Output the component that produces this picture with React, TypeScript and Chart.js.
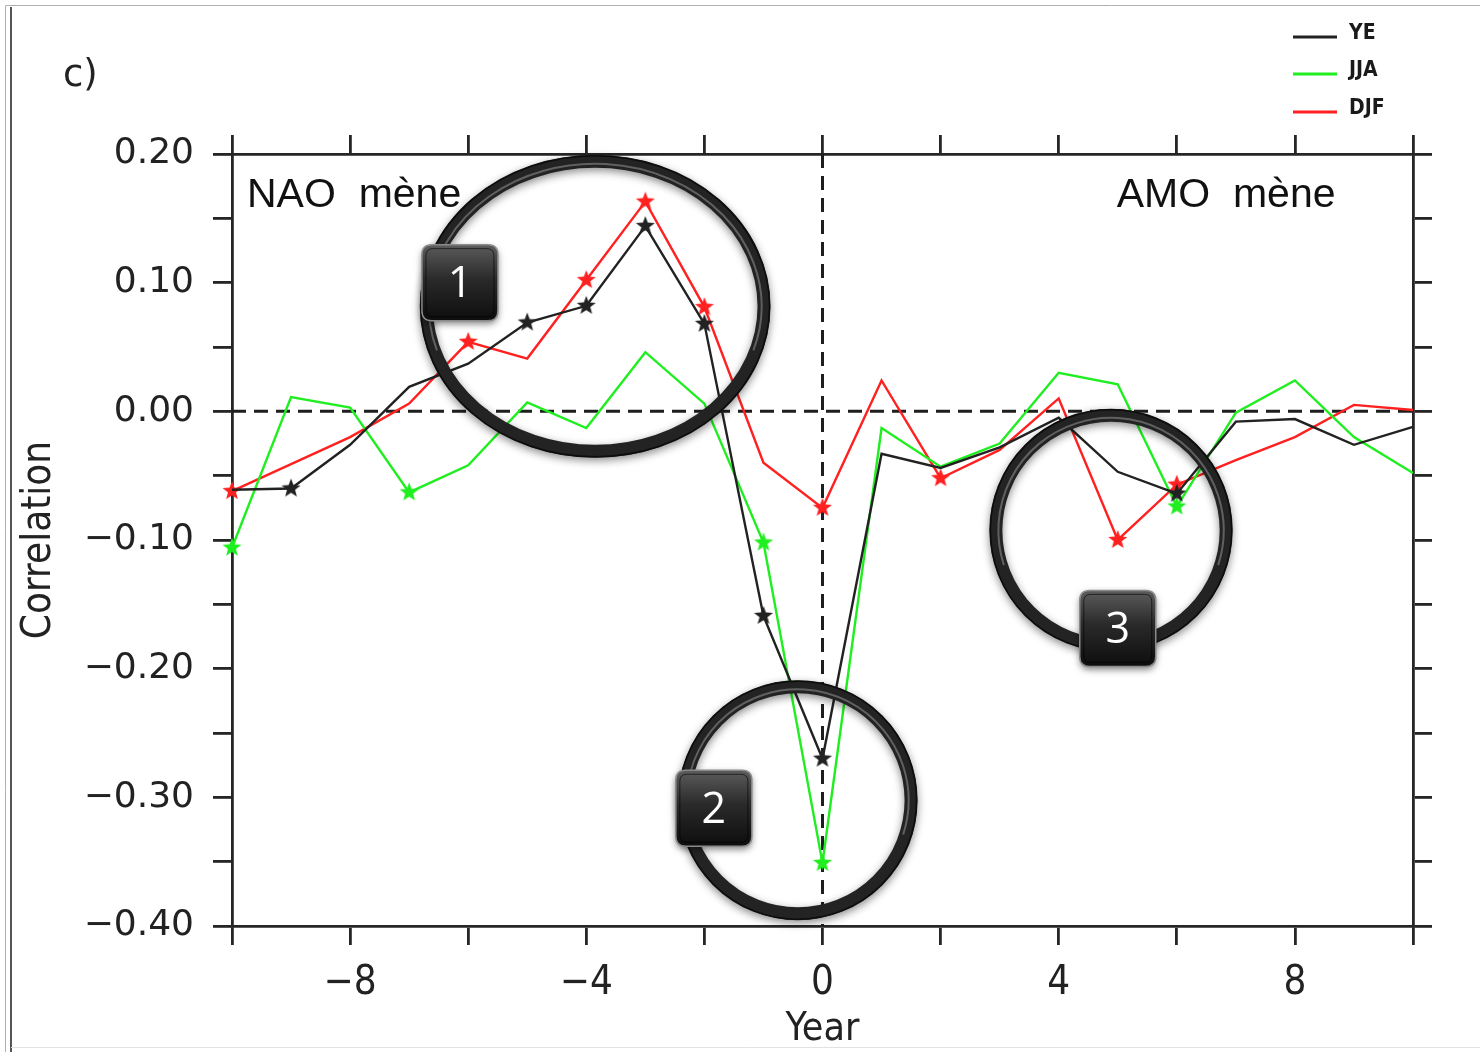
import React, { useEffect, useRef } from "react";
import { Chart, registerables } from "chart.js";

Chart.register(...registerables);

// Lag in years (negative: NAO leads, positive: AMO leads)
const years = [-10, -9, -8, -7, -6, -5, -4, -3, -2, -1, 0, 1, 2, 3, 4, 5, 6, 7, 8, 9, 10];

// Lagged correlation, annual mean
const ye = [-0.061, -0.06, -0.026, 0.019, 0.037, 0.069, 0.082, 0.144, 0.068, -0.159, -0.27, -0.033, -0.044, -0.028, -0.005, -0.047, -0.064, -0.008, -0.006, -0.026, -0.012];
// Lagged correlation, summer (JJA)
const jja = [-0.106, 0.011, 0.003, -0.063, -0.042, 0.007, -0.013, 0.046, 0.006, -0.102, -0.351, -0.013, -0.043, -0.025, 0.03, 0.021, -0.074, -0.001, 0.024, -0.02, -0.048];
// Lagged correlation, winter (DJF)
const djf = [-0.062, -0.041, -0.02, 0.006, 0.054, 0.041, 0.102, 0.163, 0.081, -0.04, -0.075, 0.024, -0.052, -0.03, 0.01, -0.1, -0.057, -0.038, -0.02, 0.005, 0.001];

// Significant lags, marked with a star
const yeSignificant = [-9, -5, -4, -3, -2, -1, 0, 6];
const jjaSignificant = [-10, -7, -1, 0, 6];
const djfSignificant = [-10, -6, -4, -3, -2, 0, 2, 5, 6];

const seriesLabels = ["YE", "JJA", "DJF"];
const seriesColors = ["#222222", "#1fee1f", "#ff2020"];

const xTickLabels = [-8, -4, 0, 4, 8];
const yTickLabels = [0.2, 0.1, 0, -0.1, -0.2, -0.3, -0.4];

const panelLabel = "c)";
const leftNote = "NAO  mène";
const rightNote = "AMO  mène";

// Highlight rings and their numbered badges, in data units
const rings = [
  { label: "1", cx: -3.85, cy: 0.0816, rx: 2.86, ry: 0.1127, bx: -6.14, by: 0.1 },
  { label: "2", cx: -0.42, cy: -0.3023, rx: 1.92, ry: 0.0882, bx: -1.84, by: -0.3085 },
  { label: "3", cx: 4.886, cy: -0.0925, rx: 1.95, ry: 0.0894, bx: 5.0, by: -0.1687 },
];

const AXIS = "#262626";
const TICK_LEN = 19;

function makeStar(color: string, outer = 10, inner = 4.2) {
  const c = document.createElement("canvas");
  const s = Math.ceil(outer * 2 + 4);
  c.width = s;
  c.height = s;
  const g = c.getContext("2d")!;
  g.translate(s / 2, s / 2);
  g.beginPath();
  for (let i = 0; i < 10; i++) {
    const r = i % 2 === 0 ? outer : inner;
    const a = -Math.PI / 2 + (i * Math.PI) / 5;
    const px = r * Math.cos(a);
    const py = r * Math.sin(a);
    if (i === 0) g.moveTo(px, py);
    else g.lineTo(px, py);
  }
  g.closePath();
  g.fillStyle = color;
  g.fill();
  return c;
}

function fmtY(v: number) {
  const s = Math.abs(v).toFixed(2);
  return v < -1e-9 ? "\u2212" + s : s;
}

function fmtX(v: number) {
  return v < 0 ? "\u2212" + Math.abs(v) : String(v);
}

function roundRect(ctx: CanvasRenderingContext2D, x: number, y: number, w: number, h: number, r: number) {
  ctx.beginPath();
  ctx.moveTo(x + r, y);
  ctx.lineTo(x + w - r, y);
  ctx.quadraticCurveTo(x + w, y, x + w, y + r);
  ctx.lineTo(x + w, y + h - r);
  ctx.quadraticCurveTo(x + w, y + h, x + w - r, y + h);
  ctx.lineTo(x + r, y + h);
  ctx.quadraticCurveTo(x, y + h, x, y + h - r);
  ctx.lineTo(x, y + r);
  ctx.quadraticCurveTo(x, y, x + r, y);
  ctx.closePath();
}

const framePlugin = {
  id: "frame",
  beforeDraw(chart: any) {
    const ctx = chart.ctx as CanvasRenderingContext2D;
    ctx.save();
    ctx.fillStyle = "#ffffff";
    ctx.fillRect(0, 0, chart.width, chart.height);
    // page border
    ctx.strokeStyle = "#b0b0b0";
    ctx.lineWidth = 1;
    ctx.beginPath();
    ctx.moveTo(5.5, chart.height);
    ctx.lineTo(5.5, 5.5);
    ctx.lineTo(chart.width, 5.5);
    ctx.stroke();
    ctx.strokeStyle = "#555555";
    ctx.lineWidth = 2;
    ctx.beginPath();
    ctx.moveTo(11, 7);
    ctx.lineTo(11, chart.height);
    ctx.stroke();
    ctx.strokeStyle = "#e2e2e2";
    ctx.lineWidth = 1;
    ctx.beginPath();
    ctx.moveTo(11, chart.height - 4.5);
    ctx.lineTo(chart.width, chart.height - 4.5);
    ctx.stroke();
    ctx.restore();
  },
  beforeDatasetsDraw(chart: any) {
    const ctx = chart.ctx as CanvasRenderingContext2D;
    const { left, right, top, bottom } = chart.chartArea;
    const xs = chart.scales.x;
    const ysc = chart.scales.y;
    ctx.save();
    ctx.strokeStyle = "#1e1e1e";
    ctx.lineWidth = 3;
    ctx.setLineDash([14, 8]);
    const y0 = ysc.getPixelForValue(0);
    ctx.beginPath();
    ctx.moveTo(left, y0);
    ctx.lineTo(right, y0);
    ctx.stroke();
    const x0 = xs.getPixelForValue(0);
    ctx.beginPath();
    ctx.moveTo(x0, top);
    ctx.lineTo(x0, bottom);
    ctx.stroke();
    ctx.restore();
  },
  afterDraw(chart: any) {
    const ctx = chart.ctx as CanvasRenderingContext2D;
    const xs = chart.scales.x;
    const ysc = chart.scales.y;
    const { left, right, top } = chart.chartArea;
    ctx.save();

    // notes inside the plot
    ctx.fillStyle = "#111";
    ctx.font = "41px 'Liberation Sans', Arial, sans-serif";
    ctx.textBaseline = "alphabetic";
    ctx.textAlign = "left";
    ctx.fillText(leftNote, left + 15, top + 53);
    ctx.fillText(rightNote, xs.getPixelForValue(5) - 1, top + 53);

    // panel label
    ctx.font = "37px 'DejaVu Sans', sans-serif";
    ctx.fillStyle = "#222";
    ctx.textAlign = "left";
    ctx.textBaseline = "middle";
    ctx.fillText(panelLabel, 63, 76);

    // axis titles
    ctx.font = "39px 'DejaVu Sans Condensed', 'DejaVu Sans', sans-serif";
    ctx.textAlign = "center";
    ctx.textBaseline = "middle";
    ctx.fillText("Year", (left + right) / 2, 1030);
    ctx.save();
    ctx.translate(40, 540);
    ctx.rotate(-Math.PI / 2);
    ctx.font = "40px 'DejaVu Sans Condensed', 'DejaVu Sans', sans-serif";
    ctx.fillText("Correlation", 0, 0);
    ctx.restore();

    // legend
    const rowsY = [37, 74, 112];
    chart.data.datasets.forEach((ds: any, i: number) => {
      ctx.strokeStyle = ds.borderColor;
      ctx.lineWidth = 3;
      ctx.beginPath();
      ctx.moveTo(1293, rowsY[i]);
      ctx.lineTo(1337, rowsY[i]);
      ctx.stroke();
      ctx.fillStyle = "#1a1a1a";
      ctx.font = "bold 21px 'DejaVu Sans Condensed', 'DejaVu Sans', sans-serif";
      ctx.textAlign = "left";
      ctx.textBaseline = "middle";
      ctx.fillText(ds.label, 1349, rowsY[i] - 3);
    });

    // highlight rings
    rings.forEach((r) => {
      const cx = xs.getPixelForValue(r.cx);
      const cy = ysc.getPixelForValue(r.cy);
      const rx = Math.abs(xs.getPixelForValue(r.cx + r.rx) - cx);
      const ry = Math.abs(ysc.getPixelForValue(r.cy + r.ry) - cy);
      ctx.save();
      ctx.shadowColor = "rgba(0,0,0,0.45)";
      ctx.shadowBlur = 8;
      ctx.shadowOffsetY = 3;
      ctx.strokeStyle = "#232323";
      ctx.lineWidth = 13;
      ctx.beginPath();
      ctx.ellipse(cx, cy, rx, ry, 0, 0, Math.PI * 2);
      ctx.stroke();
      ctx.restore();
      ctx.save();
      ctx.strokeStyle = "rgba(255,255,255,0.28)";
      ctx.lineWidth = 2;
      ctx.beginPath();
      ctx.ellipse(cx, cy, rx - 2.5, ry - 2.5, 0, Math.PI * 0.9, Math.PI * 2.1);
      ctx.stroke();
      ctx.strokeStyle = "#0c0c0c";
      ctx.lineWidth = 1.5;
      ctx.beginPath();
      ctx.ellipse(cx, cy, rx + 5.5, ry + 5.5, 0, 0, Math.PI * 2);
      ctx.stroke();
      ctx.restore();
    });

    // numbered badges
    rings.forEach((r) => {
      const bx = xs.getPixelForValue(r.bx);
      const by = ysc.getPixelForValue(r.by);
      const s = 76;
      ctx.save();
      ctx.shadowColor = "rgba(0,0,0,0.5)";
      ctx.shadowBlur = 7;
      ctx.shadowOffsetY = 3;
      const grad = ctx.createLinearGradient(0, by - s / 2, 0, by + s / 2);
      grad.addColorStop(0, "#5c5c5c");
      grad.addColorStop(0.45, "#2a2a2a");
      grad.addColorStop(1, "#0d0d0d");
      roundRect(ctx, bx - s / 2, by - s / 2, s, s, 10);
      ctx.fillStyle = grad;
      ctx.fill();
      ctx.restore();
      ctx.save();
      roundRect(ctx, bx - s / 2, by - s / 2, s, s, 10);
      ctx.strokeStyle = "#8a8a8a";
      ctx.lineWidth = 1.5;
      ctx.stroke();
      roundRect(ctx, bx - s / 2 + 4, by - s / 2 + 4, s - 8, s - 8, 7);
      ctx.strokeStyle = "rgba(0,0,0,0.6)";
      ctx.lineWidth = 1;
      ctx.stroke();
      ctx.fillStyle = "#ffffff";
      ctx.font = "43px 'Open Sans', 'DejaVu Sans', sans-serif";
      ctx.textAlign = "center";
      ctx.textBaseline = "middle";
      ctx.fillText(r.label, bx, by + 2);
      ctx.restore();
    });

    ctx.restore();
  },
};

function buildDataset(label: string, color: string, values: number[], significant: number[]) {
  const star = makeStar(color);
  return {
    label,
    data: years.map((yr, i) => ({ x: yr, y: values[i] })),
    borderColor: color,
    backgroundColor: color,
    borderWidth: 2.4,
    tension: 0,
    pointStyle: star,
    pointRadius: (c: any) => (significant.includes(years[c.dataIndex]) ? 10 : 0),
    pointHoverRadius: 0,
    clip: 12,
  };
}

const commonGrid = {
  drawOnChartArea: false,
  drawTicks: true,
  tickLength: TICK_LEN,
  color: AXIS,
  lineWidth: 2.8,
};
const commonBorder = { color: AXIS, width: 2.8 };

export default function App() {
  const ref = useRef<HTMLCanvasElement | null>(null);

  useEffect(() => {
    if (!ref.current) return;
    const chart = new Chart(ref.current, {
      type: "line",
      data: {
        datasets: [
          buildDataset(seriesLabels[0], seriesColors[0], ye, yeSignificant),
          buildDataset(seriesLabels[1], seriesColors[1], jja, jjaSignificant),
          buildDataset(seriesLabels[2], seriesColors[2], djf, djfSignificant),
        ] as any,
      },
      options: {
        responsive: false,
        animation: false,
        layout: { padding: 0 },
        plugins: {
          legend: { display: false },
          tooltip: { enabled: false },
          title: { display: false },
        },
        scales: {
          x: {
            type: "linear",
            position: "bottom",
            min: -10,
            max: 10,
            grid: commonGrid,
            border: commonBorder,
            ticks: {
              stepSize: 2,
              autoSkip: false,
              maxRotation: 0,
              padding: 15,
              color: "#222",
              font: { family: "'DejaVu Sans Condensed', 'DejaVu Sans', sans-serif", size: 40 },
              callback: (v: any) => (xTickLabels.includes(Number(v)) ? fmtX(Number(v)) : ""),
            },
            afterFit: (s: any) => {
              s.height = 126;
            },
          },
          x2: {
            type: "linear",
            position: "top",
            min: -10,
            max: 10,
            grid: commonGrid,
            border: commonBorder,
            ticks: { stepSize: 2, display: false },
            afterFit: (s: any) => {
              s.height = 154;
            },
          },
          y: {
            type: "linear",
            position: "left",
            min: -0.4,
            max: 0.2,
            grid: commonGrid,
            border: commonBorder,
            ticks: {
              stepSize: 0.05,
              autoSkip: false,
              padding: 19,
              color: "#222",
              font: { family: "'DejaVu Sans', sans-serif", size: 36 },
              callback: (v: any) => {
                const n = Math.round(Number(v) * 100) / 100;
                return yTickLabels.some((t) => Math.abs(t - n) < 1e-6) ? fmtY(n) : "";
              },
            },
            afterFit: (s: any) => {
              s.width = 232;
            },
          },
          y2: {
            type: "linear",
            position: "right",
            min: -0.4,
            max: 0.2,
            grid: commonGrid,
            border: commonBorder,
            ticks: { stepSize: 0.05, display: false },
            afterFit: (s: any) => {
              s.width = 67;
            },
          },
        },
      } as any,
      plugins: [framePlugin],
    });
    return () => chart.destroy();
  }, []);

  return (
    <div style={{ position: "absolute", left: 0, top: 0, width: 1480, height: 1052 }}>
      <canvas ref={ref} width={1480} height={1052} style={{ display: "block", width: 1480, height: 1052 }} />
    </div>
  );
}
